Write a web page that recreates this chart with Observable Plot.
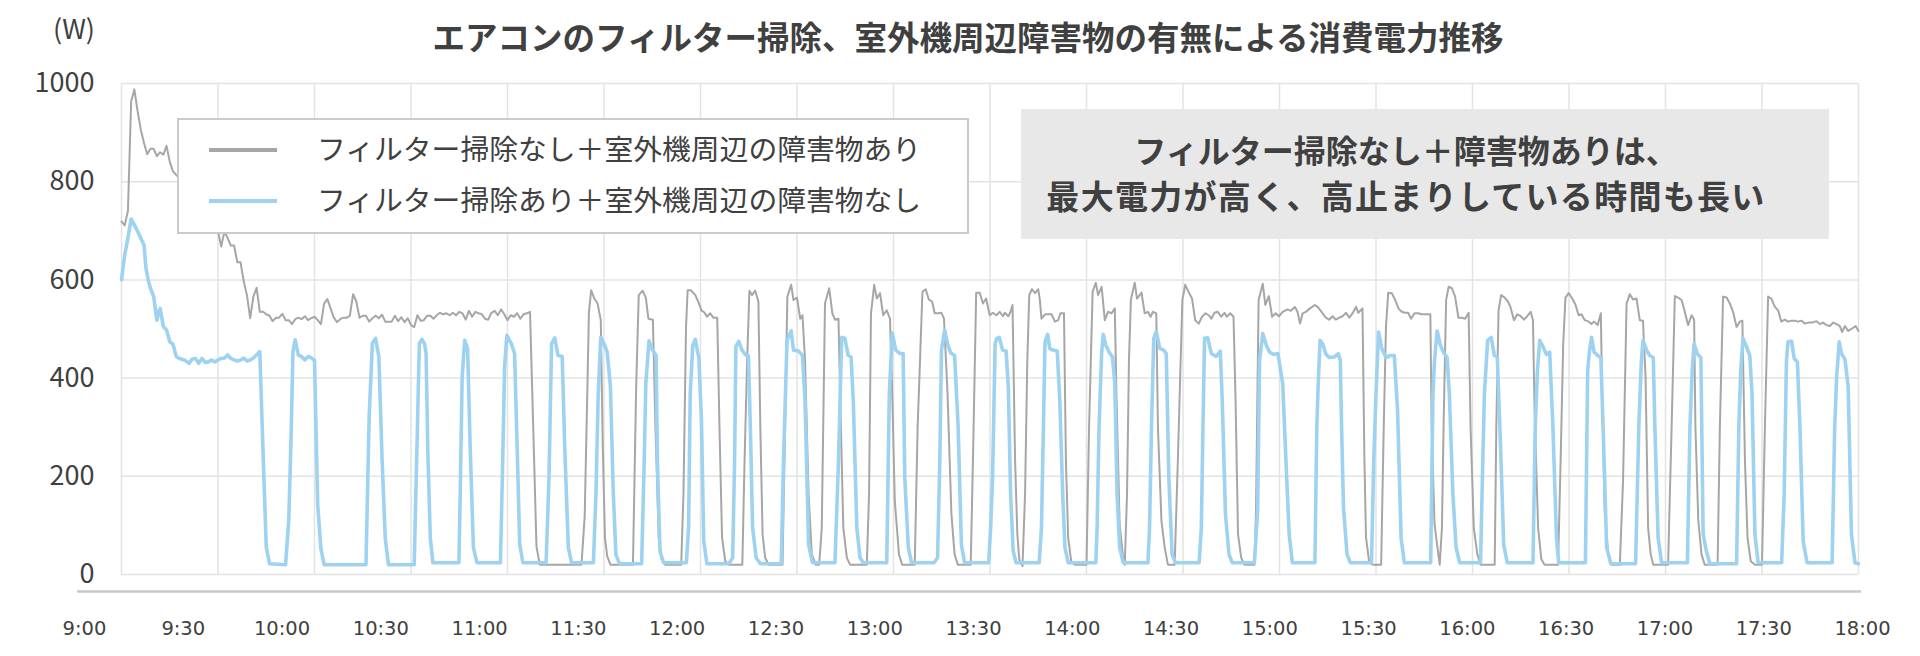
<!DOCTYPE html>
<html lang="ja">
<head>
<meta charset="utf-8">
<script src="https://cdn.jsdelivr.net/npm/d3@7"></script>
<script src="https://cdn.jsdelivr.net/npm/@observablehq/plot@0.6"></script>
<style>
  html, body { margin: 0; padding: 0; background: #fff; }
  #wrap { position: relative; width: 1920px; height: 656px; overflow: hidden; font-family: "Noto Sans CJK JP", "Noto Sans", sans-serif; color: #404040; }
  #wrap svg { position: absolute; left: 0; max-width: none; }
  .abs { position: absolute; white-space: nowrap; }
</style>
</head>
<body>
<div id="wrap"></div>
<script>
// ---------- DATA ----------
const titleText = "エアコンのフィルター掃除、室外機周辺障害物の有無による消費電力推移";
const unitLabel = "(W)";
const seriesNames = [
  "フィルター掃除なし＋室外機周辺の障害物あり",
  "フィルター掃除あり＋室外機周辺の障害物なし"
];
const noteLines = [
  "フィルター掃除なし＋障害物ありは、",
  "最大電力が高く、高止まりしている時間も長い"
];
const xTickLabels = ["9:00","9:30","10:00","10:30","11:00","11:30","12:00","12:30","13:00","13:30",
  "14:00","14:30","15:00","15:30","16:00","16:30","17:00","17:30","18:00"];
const yTicks = [0, 200, 400, 600, 800, 1000];

// [minutes after 9:00, watts]
const grayPower = [
  [0,719],[1,711],[2,741],[3,964],[4,988],[5,944],[6,906],[7,879],[8,856],[9,867],[10,867],[11,852],[12,860],[13,855],[14,873],[15,841],[16,821],
  [19,800],[23,775],[27,735],
  [30,699],[31,668],[32,699],[33,685],[34,670],[35,670],[36,636],[37,636],[38,597],[39,569],[40,522],[41,566],[42,584],[43,535],[44,535],[45,530],
  [46,527],[47,516],[48,523],[49,523],[50,531],[51,518],[52,518],[53,510],[54,520],[55,523],[56,520],[57,526],[58,518],[59,522],[60,525],
  [61,518],[62,510],[63,552],[64,561],[65,542],[66,523],[67,514],[68,520],[69,523],[70,523],[71,527],[72,571],[73,556],[74,523],[75,527],
  [76,527],[77,515],[78,522],[79,527],[80,522],[81,529],[82,515],[83,515],[84,515],[85,527],[86,516],[87,524],[88,514],[89,522],
  [90,508],[91,504],[92,528],[93,517],[94,518],[95,527],[96,527],[97,521],[98,528],[99,533],[100,530],[101,532],[102,528],[103,533],[104,528],
  [105,535],[106,532],[107,519],[108,537],[109,525],[110,535],[111,532],[112,530],[113,521],[114,519],[115,533],[116,537],[117,528],[118,540],
  [119,530],[120,518],[121,528],[122,525],[123,532],[124,521],[125,530],[126,532],[127,535],[128,300],[129,58],[130,20],
  [143,20],[144,119],[144.8,368],[145.3,532],[146,579],[147,562],[148,552],[149,518],[149.6,266],[150.3,75],[151,37],[152,20],
  [159,20],[160,382],[160.8,569],[162,578],[163,564],[163.8,521],[165.2,519],[166,300],[167,75],[168,31],[169,20],
  [174,20],[174.7,164],[175.5,504],[176,579],[177,579],[178.4,569],[179.5,552],[180.3,538],[181.3,533],[182,525],[183,532],[184,523],
  [185.2,523],[185.9,300],[186.7,75],[187.7,27],[188.8,20],
  [193,20],[193.7,232],[194.5,436],[195.2,578],[196,569],[197,578],[198,556],[198.6,300],[199.3,82],[200.1,34],[201.2,20],
  [205.5,20],[206.3,300],[207,566],[208.2,590],[208.9,559],[210,564],[211,521],[211.7,528],[212.5,436],[213.6,164],[214.6,41],[215.8,20],
  [216.9,20],[217.7,95],[218.7,552],[220,583],[221,532],[221.8,519],[222.9,521],[223.4,368],[224.4,95],[225.5,34],[226.5,20],
  [231.7,20],[232.4,164],[233,532],[234,590],[234.8,562],[235.8,573],[236.8,528],[237.9,538],[238.9,521],[239.6,368],[240.4,150],[241.7,41],[242.7,20],
  [246.6,20],[247.5,300],[249,576],[250,581],[251,560],[252,556],[252.8,532],[253.9,532],[254.9,533],[255.7,521],[256.8,368],[258,123],[259,41],[260,20],
  [264,20],[264.7,232],[265.7,574],[266.8,574],[267.8,552],[268.8,562],[269.9,528],[270.9,533],[272,528],[273,535],[274,526],[274.6,533],
  [275.7,526],[276.4,535],[277,549],[277.8,232],[278.5,82],[279.1,31],[280.1,17],
  [280.9,164],[281.6,436],[282.2,569],[283,581],[284,573],[285,581],[285.5,559],[286,521],[287.1,530],[288.1,530],[289.1,530],[290.2,515],
  [291.2,518],[291.9,532],[293,532],[293.6,232],[294.3,75],[295.3,24],[296.4,20],
  [300,20],[300.8,300],[301.9,576],[302.9,594],[303.6,569],[304.7,586],[305.7,518],[306.7,535],[307.8,532],[308.8,542],[309.3,368],[310.3,102],[311.4,34],[311.9,20],
  [312.6,164],[313.2,436],[313.8,560],[315,594],[315.7,562],[317.1,574],[318.1,532],[319.1,535],[319.9,525],[320.7,535],[321.7,532],[322.2,300],
  [323.3,109],[324.3,55],[325.3,20],
  [327.4,20],[328.4,232],[329.8,559],[330.7,590],[331.7,576],[332.8,562],[333.8,518],[334.9,511],[335.9,525],[337,532],[338,528],[338.8,521],
  [339.8,533],[340.8,535],[341.9,525],[342.9,533],[343.6,525],[344.7,532],[345.7,525],[346.3,368],[347.1,82],[348.1,34],[349.1,20],
  [352.2,20],[352.7,130],[353.5,559],[354.8,592],[355.6,549],[356.7,567],[357.7,525],[358.8,532],[359.8,526],[361,535],[362.5,540],[363.5,537],
  [364.8,545],[365.6,535],[366.4,511],[367.2,532],[368.2,535],[369.5,542],[371,549],[372,544],[373.4,532],[374.4,523],[375.4,519],[376.5,526],
  [377.5,519],[378.6,523],[379.6,526],[380.7,533],[381.7,523],[382.7,532],[383.8,545],[384.5,533],[385.8,542],[386.4,232],[386.9,75],[387.9,24],[389,20],
  [391.6,20],[392.4,300],[393.1,504],[393.8,574],[394.9,573],[395.9,560],[397,542],[398,535],[399,533],[400,533],[400.9,521],[402,532],[403,532],
  [404.2,530],[405.6,530],[406.9,530],[407.3,300],[408.2,102],[409,61],[409.8,20],
  [410.5,95],[411,300],[411.8,559],[412.6,586],[413.6,583],[414.6,566],[415.6,523],[416.7,523],[417.7,521],[418.8,533],[419.4,300],[420.4,95],[421.5,41],[422.5,20],
  [426.9,20],[427.4,300],[428.1,538],[428.9,569],[430,564],[431,556],[431.8,545],[432.9,518],[433.9,530],[435,526],[436,519],[437,526],[438.1,535],
  [438.8,518],[439.3,334],[440.4,95],[441.4,31],[442.4,20],
  [446.6,20],[447.4,232],[448.2,470],[448.9,564],[449.9,573],[451,562],[452,550],[453,528],[453.9,530],[454.9,518],[455.9,516],[457,510],
  [457.8,515],[458.9,508],[459.9,532],[460.3,368],[461.1,130],[462.2,41],[463.2,20],
  [465.8,20],[466.8,190],[467.9,552],[468.9,571],[469.9,560],[471,562],[472,518],[473,517],[473.8,402],[474.6,95],[475.4,41],[476.2,20],
  [480.8,20],[481.9,300],[482.9,567],[483.9,564],[485,559],[486,535],[487,508],[488.1,528],[488.9,519],[489.3,300],[490.2,109],[491.2,41],[492.2,20],
  [496.2,20],[496.9,300],[497.9,566],[499,564],[500,552],[501,535],[502.1,504],[503.1,515],[503.9,517],[504.7,232],[505.5,75],[506.5,27],[507.8,20],
  [510,20],[510.9,300],[511.9,566],[512.9,562],[514,545],[515,538],[516,515],[517.1,519],[518.1,515],[519.2,517],[520.2,517],[521.2,515],
  [522.3,517],[523.3,511],[524.4,513],[525.6,513],[526.9,516],[528,510],[529,513],[530,508],[531.1,506],[532.1,513],[533.2,510],[534.2,506],
  [534.9,494],[535.8,506],[536.8,496],[538,501],[539.1,506],[540,496]
];

const bluePower = [
  [0,600],[1,651],[2,685],[3,724],[4,712],[5,699],[6,685],[7,671],[7.6,624],[8.3,600],[9,583],[10,566],[11,518],[11.5,534],[12,542],[13,505],
  [14,498],[15,474],[16,469],[17,444],[18,440],[19,438],[20,435],[21,430],[22,439],[23,440],[24,430],[25,440],[26,432],[27,433],[28,437],
  [29,433],[30,437],[31,440],[32,441],[33,447],[34,440],[35,437],[36,435],[37,437],[38,441],[39,435],[40,437],[41,441],[42,447],[43,454],
  [44,250],[45,56],[46,22],[51,20],[52,110],[52.7,277],[53.3,454],[54,478],[55,447],[56,444],[57,437],[58,444],[59,441],[60,437],[61,141],[62,52],[63,20],
  [76,20],[77,324],[78,471],[79,481],[80,444],[81,236],[82,73],[83,20],
  [91,20],[91.5,164],[92,300],[92.6,470],[93.4,479],[94.2,470],[94.7,450],[95.2,259],[96,75],[96.8,24],
  [104.9,24],[105.3,164],[105.9,402],[106.7,477],[107.6,460],[108.4,259],[109.4,55],[110.5,24],
  [117.8,24],[118.4,198],[119.1,423],[119.8,487],[121.2,470],[122.2,450],[123,259],[123.8,61],[124.8,24],
  [132,24],[132.9,198],[133.7,470],[134.7,482],[135.7,446],[137,444],[137.8,259],[138.9,55],[139.9,24],
  [146.7,24],[147.5,164],[148.2,368],[149,483],[150,470],[151,453],[152,382],[152.9,164],[153.7,41],[154.8,22],
  [161.7,22],[162.5,232],[163,389],[164,476],[165,458],[166.2,446],[166.6,232],[167.4,48],[168.5,24],
  [175.6,24],[176.3,95],[176.8,368],[177.6,467],[178.4,479],[179.5,440],[180.3,314],[181,68],[182,22],
  [188.8,22],[190,34],[190.6,232],[191,464],[191.9,475],[192.9,457],[193.9,448],[194.9,445],[195.5,300],[196.2,95],[197.3,34],[198.6,22],
  [205.1,22],[205.8,232],[206.9,477],[208.2,496],[208.9,457],[210.5,455],[211.7,446],[212.5,354],[213.6,61],[214.8,24],
  [221.8,24],[222.9,232],[223.9,483],[224.9,481],[225.9,446],[226.8,443],[227.5,354],[228.6,95],[229.6,34],[230.6,24],
  [237.9,24],[238.7,368],[239.6,492],[240.7,457],[242,450],[243,450],[243.5,198],[244.6,55],[245.6,24],
  [252.6,24],[253.7,34],[254.4,232],[254.9,457],[255.9,498],[256.9,467],[257.8,451],[259,446],[260.1,300],[261.1,61],[262.1,24],
  [269.6,24],[270.2,95],[270.8,198],[271.6,470],[272.1,481],[272.9,483],[273.9,457],[275,455],[275.7,382],[276.4,164],[277.2,48],[278.1,24],
  [285.3,24],[286,95],[286.6,300],[287.1,474],[287.9,489],[288.6,460],[289.5,457],[290.9,455],[291.7,354],[292.6,164],[293.3,55],[294.3,24],
  [302.9,24],[303.3,95],[303.9,300],[304.7,450],[305.2,489],[306,467],[307,453],[308.1,443],[308.8,389],[309.5,164],[310.3,55],[311.4,24],
  [319.1,24],[319.6,95],[320.2,300],[320.9,481],[321.7,494],[322.8,460],[324,457],[324.8,450],[325.6,198],[326.6,41],[327.7,24],
  [335,24],[335.7,95],[336.2,300],[336.7,481],[337.7,482],[338.8,450],[340.3,444],[341.6,455],[342.2,354],[343.2,123],[344.3,41],[345.3,24],
  [352.2,24],[353.2,130],[353.8,436],[354.8,491],[355.9,467],[356.9,453],[358.2,448],[359.5,450],[361,389],[362,232],[363,82],[364,24],
  [371,24],[371.6,300],[372,382],[372.6,477],[373.4,470],[374.4,449],[375.4,442],[377,443],[378.3,450],[378.9,436],[379.3,300],[379.9,136],[381,41],[382,24],
  [388.6,24],[389.3,232],[390,368],[390.8,494],[391.8,460],[393.1,442],[394.5,446],[395.7,446],[396.7,334],[397.8,75],[398.8,24],
  [407,24],[407.7,368],[408.2,436],[409,496],[410,467],[411.1,451],[412.1,442],[412.8,368],[413.9,164],[414.9,55],[416,24],
  [422.5,24],[423.2,232],[423.7,368],[424.7,477],[425.8,483],[426.8,446],[427.7,443],[428.7,266],[429.7,61],[430.8,24],
  [438.8,24],[439.5,300],[440.2,416],[440.9,477],[441.9,464],[443,448],[444,453],[445,300],[446.1,75],[446.8,24],
  [455.1,24],[455.8,416],[456.4,457],[457,483],[457.8,453],[458.9,446],[459.9,442],[460.6,300],[461.7,55],[463,22],
  [470.7,22],[471.7,300],[472.5,436],[473,477],[474.1,457],[475.1,446],[476.2,442],[476.7,300],[477.7,75],[478.8,24],
  [486.8,24],[487.6,300],[488.3,416],[488.9,470],[489.9,449],[491,442],[491.7,82],[492.7,48],[493.8,22],
  [502.1,22],[502.8,300],[503.4,416],[504.1,481],[505.2,464],[506.2,446],[506.9,368],[507.8,82],[508.8,24],
  [516.1,24],[516.9,164],[517.6,436],[518.1,474],[519.2,475],[520,440],[521,433],[521.8,300],[522.8,68],[524,24],
  [531.8,24],[532.6,300],[533.2,402],[534,474],[534.7,450],[535.8,438],[536.8,382],[537.8,82],[538.9,24],[540,22]
];

// ---------- STYLES ----------
const GRAY = "#a6a6a6";
const BLUE = "#9ed2f1";
const GRID = "#e3e3e3";
const TEXT = "#404040";

const toMinutes = s => { const [h, m] = s.split(":").map(Number); return (h - 9) * 60 + m; };
const xTickMinutes = xTickLabels.map(toMinutes);
const tickLabelOf = v => xTickLabels[xTickMinutes.indexOf(v)] ?? "";

const wrap = document.getElementById("wrap");

// main chart
const chart = Plot.plot({
  width: 1920,
  height: 656,
  marginLeft: 121,
  marginRight: 62,
  marginTop: 83,
  marginBottom: 82,
  style: { fontFamily: "'Noto Sans CJK JP', sans-serif", fontSize: "27px", color: TEXT, background: "transparent", overflow: "visible" },
  x: { domain: [0, 540], axis: null },
  y: { domain: [0, 1000], ticks: yTicks, tickFormat: d => String(d), tickSize: 0, tickPadding: 27, label: null },
  marks: [
    Plot.ruleY(yTicks, { stroke: GRID, strokeWidth: 1.5 }),
    Plot.ruleX(xTickMinutes, { stroke: GRID, strokeWidth: 1.5 }),
    Plot.line(grayPower, { x: d => d[0], y: d => d[1], stroke: GRAY, strokeWidth: 2 }),
    Plot.line(bluePower, { x: d => d[0], y: d => d[1], stroke: BLUE, strokeWidth: 3.6 })
  ]
});
chart.style.top = "0px";
wrap.appendChild(chart);

// category-style time axis below the chart (its label spacing differs slightly from the grid, as in the original)
const axisPlot = Plot.plot({
  width: 1920,
  height: 81,
  marginLeft: 84,
  marginRight: 58,
  marginTop: 16,
  marginBottom: 35,
  style: { fontFamily: "'DejaVu Sans', sans-serif", fontSize: "19.5px", color: TEXT, background: "transparent", overflow: "visible" },
  x: { domain: [0, 540], ticks: xTickMinutes, tickFormat: tickLabelOf, tickSize: 0, tickPadding: 0, label: null },
  y: { domain: [0, 1], range: [16, 46], axis: null },
  marks: [
    Plot.ruleY([0], { stroke: "#c8c8c8", strokeWidth: 2.6, insetLeft: -7, insetRight: 1 })
  ]
});
axisPlot.style.top = "575px";
wrap.appendChild(axisPlot);

// helpers for overlays
function addDiv(styles, text) {
  const d = document.createElement("div");
  d.className = "abs";
  Object.assign(d.style, styles);
  if (text != null) d.textContent = text;
  wrap.appendChild(d);
  return d;
}

// title
addDiv({ left: "0px", width: "1936px", top: "20px", textAlign: "center", fontSize: "32.5px", lineHeight: "32.5px", fontWeight: "bold", color: TEXT }, titleText);

// unit
addDiv({ right: "1825px", top: "14px", fontSize: "27px", lineHeight: "27px", color: TEXT, textAlign: "right" }, unitLabel);

// legend box
addDiv({ left: "177px", top: "118px", width: "792px", height: "116px", boxSizing: "border-box", border: "2px solid #cacaca", background: "#fff" });
[GRAY, BLUE].forEach((c, i) => {
  const cy = 150 + i * 50.5;
  addDiv({ left: "209px", top: (cy - 2) + "px", width: "68px", height: "4px", background: c });
  addDiv({ left: "317px", top: (cy - 16) + "px", fontSize: "28.8px", lineHeight: "28.8px", color: TEXT }, seriesNames[i]);
});

// annotation box
addDiv({ left: "1021px", top: "109px", width: "808px", height: "130px", background: "#e8e8e8" });
const noteText = addDiv({ left: "1002px", top: "126px", width: "808px", textAlign: "center", lineHeight: "46px", fontWeight: "bold", color: TEXT, whiteSpace: "normal" });
noteLines.forEach((t, i) => {
  const l = document.createElement("div");
  l.textContent = t;
  l.style.fontSize = i === 0 ? "32px" : "33px";
  if (i === 1) l.style.letterSpacing = "1.3px";
  noteText.appendChild(l);
});
</script>
</body>
</html>
